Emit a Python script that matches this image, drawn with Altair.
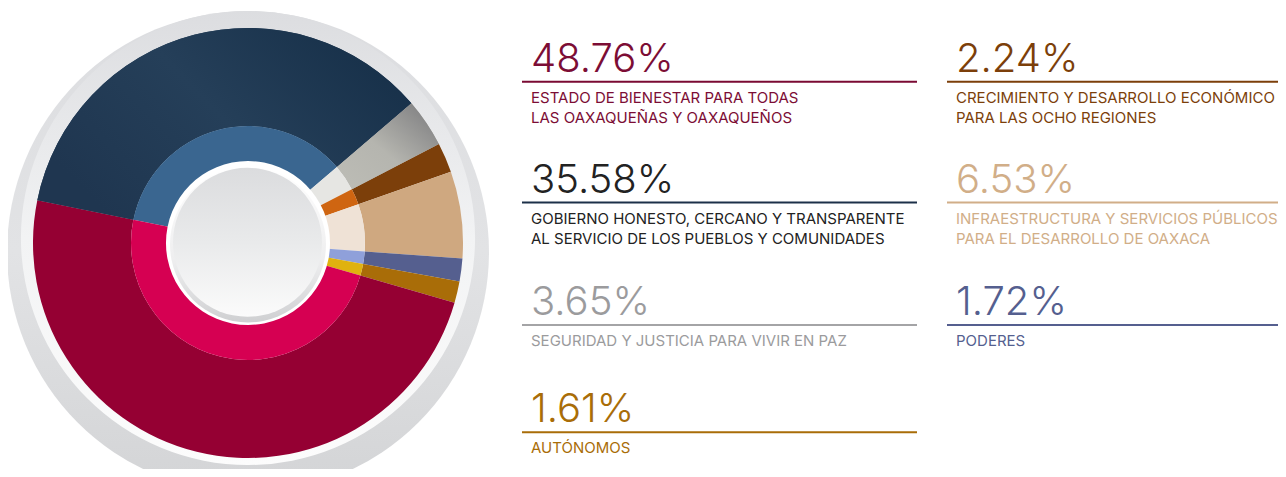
import math
import altair as alt
import pandas as pd

# ---------------- data ----------------
keys = ["bienestar", "gobierno", "seguridad", "autonomos",
        "crecimiento", "infraestructura", "poderes"]
shares = [48.76, 35.58, 3.65, 1.61, 2.24, 6.53, 1.72]
labels = [
    "ESTADO DE BIENESTAR PARA TODAS\nLAS OAXAQUEÑAS Y OAXAQUEÑOS",
    "GOBIERNO HONESTO, CERCANO Y TRANSPARENTE\nAL SERVICIO DE LOS PUEBLOS Y COMUNIDADES",
    "SEGURIDAD Y JUSTICIA PARA VIVIR EN PAZ",
    "AUTÓNOMOS",
    "CRECIMIENTO Y DESARROLLO ECONÓMICO\nPARA LAS OCHO REGIONES",
    "INFRAESTRUCTURA Y SERVICIOS PÚBLICOS\nPARA EL DESARROLLO DE OAXACA",
    "PODERES",
]
legend_col = [0, 0, 0, 0, 1, 1, 1]
legend_row = [0, 1, 2, 3, 0, 1, 2]
ring_order = ["gobierno", "seguridad", "crecimiento", "infraestructura",
              "poderes", "autonomos", "bienestar"]

# ---------------- styles ----------------
outer_colors = {"bienestar": "#950033", "gobierno": "#233d57", "seguridad": "#a9a9a4",
                "autonomos": "#a96d08", "crecimiento": "#7c3f0a",
                "infraestructura": "#cfa880", "poderes": "#555f8f"}
inner_colors = {"bienestar": "#d60052", "gobierno": "#3a6690", "seguridad": "#e6e6e3",
                "autonomos": "#e0b20f", "crecimiento": "#cf6511",
                "infraestructura": "#efe2d6", "poderes": "#8fa0da"}
text_colors = {"bienestar": "#7c0d35", "gobierno": "#222222", "seguridad": "#9b9b9d",
               "autonomos": "#a96d08", "crecimiento": "#7c3f0a",
               "infraestructura": "#d1ae88", "poderes": "#555f8f"}
line_colors = {"bienestar": "#7a0a33", "gobierno": "#1c3049", "seguridad": "#a4a4a6",
               "autonomos": "#a96d08", "crecimiento": "#7c3f0a",
               "infraestructura": "#d1ae88", "poderes": "#555f8f"}

W, H = 1270, 461
CX, CY = 240, 235
START = math.radians(281.5)
TAU = 2 * math.pi

# ---------------- table ----------------
df = pd.DataFrame({"key": keys, "share": shares, "label": labels,
                   "col": legend_col, "row": legend_row})
df["pct"] = [f"{v:.2f}%" for v in shares]
df["ord"] = [ring_order.index(k) for k in keys]
df = df.sort_values("ord")
df["end"] = df["share"].cumsum()
df["start"] = df["end"] - df["share"]
total = float(df["share"].sum())

theta_scale = alt.Scale(domain=[0, total], range=[START, START + TAU])


def cscale(cmap):
    return alt.Scale(domain=keys, range=[cmap[k] for k in keys])


one = pd.DataFrame({"d": [0]})


def disc(r, cx, cy, stops):
    return alt.Chart(one).mark_arc(
        radius=r, theta=0, theta2=TAU,
        color=alt.Gradient(gradient="linear", x1=0, y1=0, x2=0, y2=1,
                           stops=[alt.GradientStop(offset=o, color=c) for o, c in stops]),
    ).encode(x=alt.value(cx), y=alt.value(cy))


bg_outer = disc(241, 240, 244, [(0, "#dcdde0"), (0.5, "#e2e3e5"), (1, "#d3d4d6")])
bg_inner = disc(227, 240, 230, [(0, "#dcdde0"), (0.3, "#e9eaec"), (0.5, "#f2f3f4"),
                                (1, "#fcfcfc")])

ring_enc = dict(
    theta=alt.Theta("start:Q", scale=theta_scale),
    theta2="end:Q",
    x=alt.value(CX), y=alt.value(CY),
)

outer = alt.Chart(df).mark_arc(radius=215, radius2=117).encode(
    color=alt.Color("key:N", scale=cscale(outer_colors), legend=None), **ring_enc)

navy_grad = alt.Chart(df).transform_filter(alt.datum.key == "gobierno").mark_arc(
    radius=215, radius2=117,
    color=alt.Gradient(gradient="linear", x1=0, y1=0.6, x2=1, y2=0.1,
                       stops=[alt.GradientStop(offset=0, color="#1f3650"),
                              alt.GradientStop(offset=0.45, color="#253f59"),
                              alt.GradientStop(offset=1, color="#152e47")]),
).encode(**ring_enc)

grey_grad = alt.Chart(df).transform_filter(alt.datum.key == "seguridad").mark_arc(
    radius=215, radius2=117,
    color=alt.Gradient(gradient="linear", x1=0, y1=1, x2=1, y2=0,
                       stops=[alt.GradientStop(offset=0, color="#bdbdb6"),
                              alt.GradientStop(offset=0.45, color="#b5b5af"),
                              alt.GradientStop(offset=1, color="#78787b")]),
).encode(**ring_enc)

inner = alt.Chart(df).mark_arc(radius=117, radius2=70).encode(
    color=alt.Color("key:N", scale=cscale(inner_colors), legend=None), **ring_enc)

white = disc(82, CX, CY, [(0, "#ffffff"), (1, "#ffffff")])
bevel = disc(78, CX, CY + 1.5, [(0, "#ffffff"), (0.6, "#eeeeef"), (1, "#cfd0d2")])
core = disc(74.5, CX - 0.5, CY - 0.7, [(0, "#dbdcde"), (0.5, "#e9eaeb"), (1, "#fbfbfb")])

# ---------------- legend text ----------------
xs = alt.X("col:Q", scale=alt.Scale(domain=[0, 1], range=[514, 939]), axis=None)
ys = alt.Y("row:Q", scale=alt.Scale(domain=[0, 1, 2, 3], range=[73.7, 194.5, 317, 424.3]),
           axis=None)

pct = alt.Chart(df).mark_text(
    align="left", baseline="alphabetic", dx=9, dy=-10,
    fontSize=40, font="Inter", fontWeight=300,
).encode(x=xs, y=ys, text="pct:N",
         color=alt.Color("key:N", scale=cscale(text_colors), legend=None))

lab = alt.Chart(df).mark_text(
    align="left", baseline="alphabetic", dx=9, dy=21,
    fontSize=15, font="Inter", lineBreak="\n", lineHeight=20,
).encode(x=xs, y=ys, text="label:N",
         color=alt.Color("key:N", scale=cscale(text_colors), legend=None))

rule0 = alt.Chart(df).transform_filter(alt.datum.col == 0).mark_rule(strokeWidth=2).encode(
    x=xs, x2=alt.value(909), y=ys,
    color=alt.Color("key:N", scale=cscale(line_colors), legend=None))
rule1 = alt.Chart(df).transform_filter(alt.datum.col == 1).mark_rule(strokeWidth=2).encode(
    x=xs, x2=alt.value(W), y=ys,
    color=alt.Color("key:N", scale=cscale(line_colors), legend=None))

chart = alt.layer(
    bg_outer, bg_inner, outer, navy_grad, grey_grad, inner, white, bevel, core,
    rule0, rule1, pct, lab,
).resolve_scale(color="independent").properties(
    width=W, height=H, padding=0, autosize=alt.AutoSizeParams(type="none"),
).configure_view(stroke=None)

chart.save("out.html", embed_options={"renderer": "svg", "actions": False})
